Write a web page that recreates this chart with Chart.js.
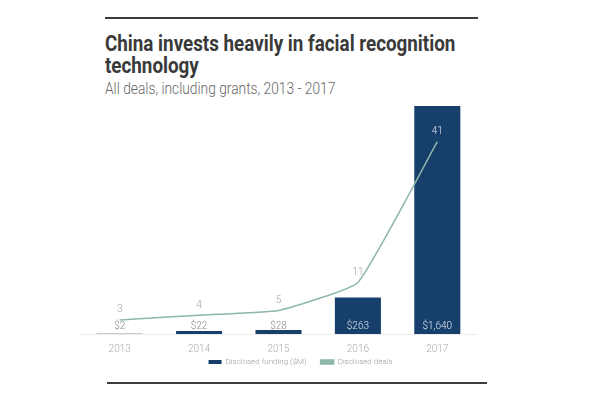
<!DOCTYPE html>
<html>
<head>
<meta charset="utf-8">
<script src="https://cdn.jsdelivr.net/npm/chart.js@4/dist/chart.umd.min.js"></script>
<style>
  html, body { margin: 0; padding: 0; background: #fff; }
  body { width: 594px; height: 398px; position: relative; overflow: hidden; font-family: Roboto, sans-serif; }
  .rule { position: absolute; left: 105px; height: 2px; background: #3c3c3c; }
  #title { position: absolute; left: 105px; top: 33px; font-size: 22px; font-weight: 700; color: #3a3a3a; line-height: 22px;
           white-space: nowrap; transform: scaleX(0.855); transform-origin: left top; }
  #subtitle { position: absolute; left: 105px; top: 79px; font-size: 16.5px; font-weight: 300; color: #666;
              white-space: nowrap; transform: scaleX(0.835); transform-origin: left top; }
  #wrap { position: absolute; left: 0; top: 0; width: 594px; height: 398px; }
</style>
</head>
<body>
<div class="rule" style="top:17px; width:373px;"></div>
<div id="title">China invests heavily in facial recognition<br>technology</div>
<div id="subtitle">All deals, including grants, 2013 - 2017</div>
<div class="rule" style="top:382px; width:380px; left:107px;"></div>
<div id="wrap"><canvas id="chart"></canvas></div>
<script>
const years = ['2013', '2014', '2015', '2016', '2017'];
const funding = [2, 22, 28, 263, 1640];
const fundingLabels = ['$2', '$22', '$28', '$263', '$1,640'];
const deals = [3, 4, 5, 11, 41];

const barColor = '#173f6c';
const lineColor = '#8db7a9';

// numbers printed on the bars and above the line points
const valueLabels = {
    id: 'valueLabels',
    afterDatasetsDraw(chart) {
        const ctx = chart.ctx;
        const yScale = chart.scales.y;
        ctx.save();
        ctx.textAlign = 'center';
        ctx.textBaseline = 'middle';
        ctx.font = '300 10px Roboto, sans-serif';
        chart.getDatasetMeta(0).data.forEach((bar, i) => {
            const h = yScale.bottom - bar.y;
            ctx.fillStyle = h > 16 ? '#dfe6ef' : '#8a8a8a';
            ctx.fillText(fundingLabels[i], bar.x, yScale.bottom - 8);
        });
        chart.getDatasetMeta(1).data.forEach((pt, i) => {
            ctx.fillStyle = i === 4 ? '#dfe6ef' : '#a0a0a0';
            ctx.fillText(String(deals[i]), pt.x, pt.y - 10);
        });
        ctx.restore();
    }
};

// legend sits a bit right of the plot centre and close under the years
const legendShift = {
    id: 'legendShift',
    afterLayout(chart) {
        const lg = chart.legend;
        const h = lg.bottom - lg.top;
        lg.left += 22;
        lg.right += 22;
        lg.top = 344;
        lg.bottom = 344 + h;
    }
};

const ctx = document.getElementById('chart').getContext('2d');
const chart = new Chart(ctx, {
    type: 'bar',
    data: {
        labels: years,
        datasets: [{
            label: 'Disclosed funding ($M)',
            data: funding,
            backgroundColor: barColor,
            yAxisID: 'y',
            barPercentage: 0.58,
            categoryPercentage: 1,
            order: 2
        }, {
            type: 'line',
            label: 'Disclosed deals',
            data: deals,
            borderColor: lineColor,
            backgroundColor: lineColor,
            borderWidth: 1.5,
            pointRadius: 0,
            tension: 0.12,
            yAxisID: 'y1',
            order: 1
        }]
    },
    options: {
        responsive: true,
        maintainAspectRatio: false,
        animation: false,
        layout: { padding: { left: 80, right: 117, top: 106, bottom: 12 } },
        scales: {
            x: {
                grid: { display: false },
                border: { display: true, color: '#ececec' },
                ticks: { color: '#aaa', font: { size: 10, family: 'Roboto', weight: '300' }, padding: 1 },
                afterFit: (scale) => { scale.height = 20; }
            },
            y: { display: false, min: 0, max: 1640 },
            y1: { display: false, min: 0, max: 48.6 }
        },
        plugins: {
            legend: {
                position: 'bottom',
                labels: {
                    boxWidth: 13,
                    boxHeight: 4,
                    padding: 14,
                    color: '#999',
                    font: { size: 8, family: 'Roboto', weight: '300' },
                    sort: (a, b) => a.datasetIndex - b.datasetIndex
                }
            },
            tooltip: { enabled: false }
        }
    },
    plugins: [valueLabels, legendShift]
});
</script>
</body>
</html>
